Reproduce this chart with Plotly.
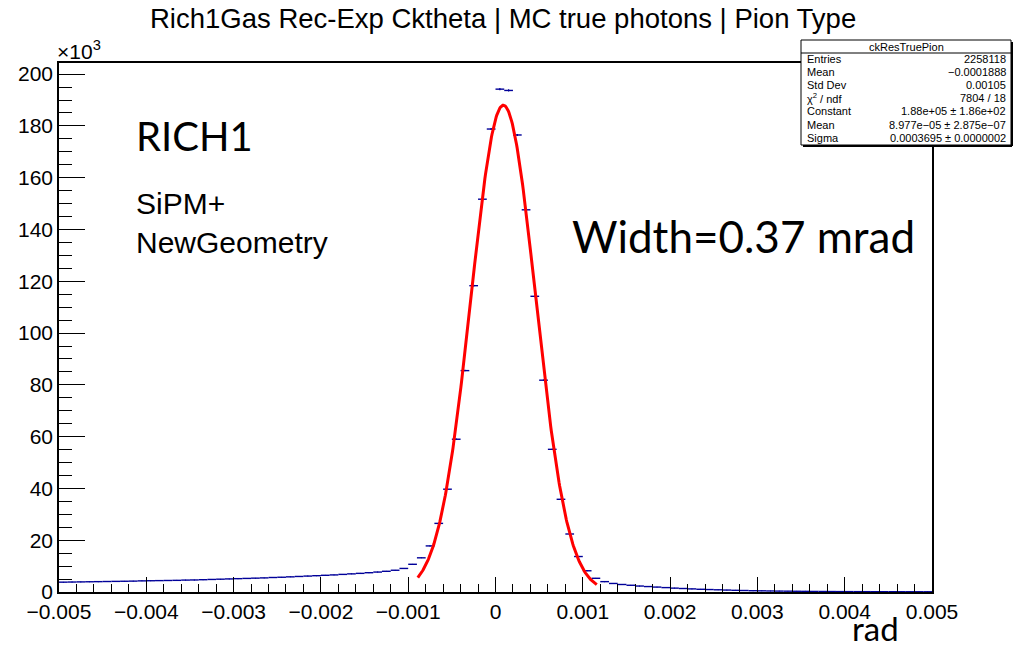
import numpy as np
import plotly.graph_objects as go

# ---------------- data ----------------
bin_width = 0.0001
bin_centers = [round(-0.00495 + i * 0.0001, 5) for i in range(100)]
counts = [
    3800, 3850, 3900, 3950, 4000, 4050, 4100, 4150, 4200, 4300,
    4350, 4400, 4450, 4500, 4600, 4650, 4750, 4850, 4950, 5050,
    5150, 5250, 5350, 5450, 5600, 5700, 5850, 6000, 6150, 6300,
    6450, 6600, 6800, 7000, 7200, 7450, 7700, 8000, 8400, 9100,
    10700, 13200, 17800, 26500, 39700, 59000, 85500, 118300, 151700, 178800,
    194200, 193700, 176500, 147600, 114200, 81800, 55100, 35800, 22400, 13700,
    8200, 5300, 4000, 3300, 2900, 2600, 2300, 2100, 1900, 1700,
    1500, 1350, 1200, 1050, 950, 850, 750, 650, 580, 500,
    450, 400, 350, 320, 280, 250, 220, 200, 180, 160,
    150, 140, 130, 120, 115, 110, 105, 100, 95, 90,
]
fit_constant = 1.88e5
fit_mean = 8.977e-05
fit_sigma = 0.0003695
fit_range = [-0.00089, 0.00116]

x_ticks = [-0.005, -0.004, -0.003, -0.002, -0.001, 0, 0.001, 0.002, 0.003, 0.004, 0.005]
x_tick_text = ["\u22120.005", "\u22120.004", "\u22120.003", "\u22120.002", "\u22120.001", "0",
               "0.001", "0.002", "0.003", "0.004", "0.005"]
y_ticks = [0, 20000, 40000, 60000, 80000, 100000, 120000, 140000, 160000, 180000, 200000]
y_tick_text = ["0", "20", "40", "60", "80", "100", "120", "140", "160", "180", "200"]

stats_title = "ckResTruePion"
stats_labels = ["Entries", "Mean", "Std Dev", "\u03c7<sup>2</sup> / ndf", "Constant", "Mean", "Sigma"]
stats_values = ["2258118", "\u22120.0001888", "0.00105", "7804 / 18",
                "1.88e+05 \u00b1 1.86e+02", "8.977e\u221205 \u00b1 2.875e\u221207",
                "0.0003695 \u00b1 0.0000002"]

# ---------------- layout geometry ----------------
W, H = 1014, 646
L, R, T, B = 59, 932, 63, 592
def px(x):
    return (x - L) / (R - L)
def py(y):
    return (B - y) / (B - T)

navy = "#000099"
fig = go.Figure()

fig.add_trace(go.Scatter(
    x=bin_centers, y=counts, mode="markers",
    marker=dict(size=1, color=navy),
    error_x=dict(type="constant", value=bin_width / 2, width=0, thickness=1.4, color=navy),
    error_y=dict(type="data", array=list(np.sqrt(counts)), width=0, thickness=1.2, color=navy),
    showlegend=False, hoverinfo="x+y",
))

fx = np.linspace(fit_range[0], fit_range[1], 300)
fy = fit_constant * np.exp(-0.5 * ((fx - fit_mean) / fit_sigma) ** 2)
fig.add_trace(go.Scatter(x=fx, y=fy, mode="lines", line=dict(color="red", width=3),
                         showlegend=False))

axis_font = dict(family="Liberation Sans, Arial", size=21, color="black")
fig.update_layout(
    width=W, height=H,
    margin=dict(l=L, r=W - R, t=T, b=H - B),
    paper_bgcolor="white", plot_bgcolor="white",
    xaxis=dict(range=[-0.005, 0.005], tickmode="array", tickvals=x_ticks, ticktext=x_tick_text,
               ticks="inside", ticklen=15, tickwidth=1, tickcolor="black",
               minor=dict(tickmode="linear", tick0=0, dtick=0.0002, ticks="inside", ticklen=8,
                          tickwidth=1, tickcolor="black"),
               showline=True, linecolor="black", linewidth=1.5, mirror=True,
               showgrid=False, zeroline=False, tickfont=axis_font),
    yaxis=dict(range=[0, 204300], tickmode="array", tickvals=y_ticks, ticktext=y_tick_text,
               ticks="inside", ticklen=26, tickwidth=1, tickcolor="black",
               minor=dict(tickmode="linear", tick0=0, dtick=5000, ticks="inside", ticklen=13,
                          tickwidth=1, tickcolor="black"),
               showline=True, linecolor="black", linewidth=1.5, mirror=True,
               showgrid=False, zeroline=False, tickfont=axis_font),
)

ann = []
def text(x, y, s, size, family="Liberation Sans, Arial", xanchor="left", yanchor="middle", color="black"):
    ann.append(dict(x=px(x), y=py(y), xref="paper", yref="paper", text=s, showarrow=False,
                    xanchor=xanchor, yanchor=yanchor, font=dict(family=family, size=size, color=color)))

text(503, 18, "Rich1Gas Rec-Exp Cktheta | MC true photons | Pion Type", 27.5, xanchor="center")
text(55, 50, "\u00d710<sup>3</sup>", 21)
text(134, 136, "RICH1", 40, family="Lato")
text(134, 203, "SiPM+", 30)
text(134, 242, "NewGeometry", 30)
text(570, 236, "Width=0.37 mrad", 44, family="Lato")
text(875, 628, "rad", 33, family="Lato", xanchor="center")

# stats box
bx0, bx1, by0, by1 = 801, 1011, 40, 145
fig.add_shape(type="rect", xref="paper", yref="paper", x0=px(bx0), x1=px(bx1), y0=py(by1), y1=py(by0),
              line=dict(color="black", width=1), fillcolor="white", layer="above")
fig.add_shape(type="line", xref="paper", yref="paper", x0=px(bx0 + 2), x1=px(bx1 + 1), y0=py(by1 + 1), y1=py(by1 + 1),
              line=dict(color="black", width=2), layer="above")
fig.add_shape(type="line", xref="paper", yref="paper", x0=px(bx1 + 1), x1=px(bx1 + 1), y0=py(by0 + 2), y1=py(by1 + 1),
              line=dict(color="black", width=2), layer="above")
fig.add_shape(type="line", xref="paper", yref="paper", x0=px(bx0), x1=px(bx1), y0=py(53), y1=py(53),
              line=dict(color="black", width=1), layer="above")
text((bx0 + bx1) / 2, 46.5, stats_title, 11, xanchor="center")
row_y = 58.5
for lab, val in zip(stats_labels, stats_values):
    text(bx0 + 4, row_y, lab, 11)
    text(bx1 - 3, row_y, val, 11, xanchor="right")
    row_y += 13.2

fig.update_layout(annotations=ann)
fig.write_html("out.html")
